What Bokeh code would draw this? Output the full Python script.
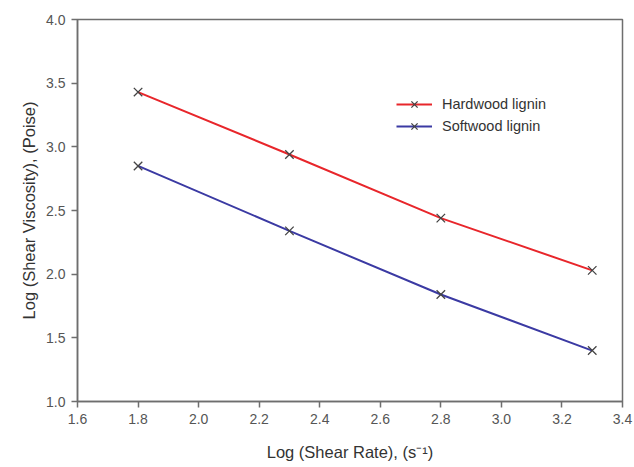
from bokeh.plotting import figure
from bokeh.models import Range1d, Legend, LegendItem, FixedTicker, CustomJSTickFormatter
from bokeh.embed import file_html
from bokeh.resources import INLINE

shear_rate = [1.8, 2.3, 2.8, 3.3]
hardwood = [3.43, 2.94, 2.44, 2.03]
softwood = [2.85, 2.34, 1.84, 1.40]
x_ticks = [1.6, 1.8, 2.0, 2.2, 2.4, 2.6, 2.8, 3.0, 3.2, 3.4]
y_ticks = [1.0, 1.5, 2.0, 2.5, 3.0, 3.5, 4.0]

FONT = "Liberation Sans"
AX = "#6e6e6e"

p = figure(width=634, height=467, output_backend="svg", toolbar_location=None,
           x_range=Range1d(1.6, 3.4), y_range=Range1d(1.0, 4.0),
           min_border_left=77, min_border_right=12, min_border_top=19, min_border_bottom=66)
p.grid.visible = False
p.outline_line_color = AX
p.outline_line_width = 1.5

for ax in (p.xaxis[0], p.yaxis[0]):
    ax.axis_line_color = AX
    ax.axis_line_width = 1.5
    ax.major_tick_line_color = AX
    ax.major_tick_line_width = 1.5
    ax.major_tick_out = 6
    ax.major_tick_in = 0
    ax.minor_tick_line_color = None
    ax.major_label_text_font = FONT
    ax.major_label_text_font_size = "14px"
    ax.major_label_text_color = "#555555"
    ax.axis_label_text_font = FONT
    ax.axis_label_text_font_size = "16.5px"
    ax.axis_label_text_font_style = "normal"
    ax.axis_label_text_color = "#333333"

p.xaxis.ticker = FixedTicker(ticks=x_ticks)
p.yaxis.ticker = FixedTicker(ticks=y_ticks)
p.xaxis.formatter = CustomJSTickFormatter(code="return tick.toFixed(1);")
p.yaxis.formatter = CustomJSTickFormatter(code="return tick.toFixed(1);")
p.xaxis.axis_label = "Log (Shear Rate), (s\u207b\u00b9)"
p.yaxis.axis_label = "Log (Shear Viscosity), (Poise)"
p.xaxis.major_label_standoff = 6
p.xaxis.axis_label_standoff = 16
p.yaxis.major_label_standoff = 6
p.yaxis.axis_label_standoff = 5

RED = "#e8262b"
BLUE = "#3b3aa3"
MK = "#444444"

l1 = p.line(shear_rate, hardwood, line_color=RED, line_width=2)
m1 = p.scatter(shear_rate, hardwood, marker="x", size=12, line_color=MK, line_width=1.3)
l2 = p.line(shear_rate, softwood, line_color=BLUE, line_width=2)
m2 = p.scatter(shear_rate, softwood, marker="x", size=12, line_color=MK, line_width=1.3)

legend = Legend(items=[LegendItem(label="Hardwood lignin", renderers=[l1, m1]),
                       LegendItem(label="Softwood lignin", renderers=[l2, m2])],
                location=(319, 264), border_line_color=None, background_fill_alpha=0,
                label_text_font=FONT, label_text_font_size="14.5px", label_text_color="#333333",
                glyph_width=36, glyph_height=22, spacing=0, padding=4, label_standoff=10)
p.add_layout(legend, "center")

open("out.html", "w").write(file_html(p, INLINE))
